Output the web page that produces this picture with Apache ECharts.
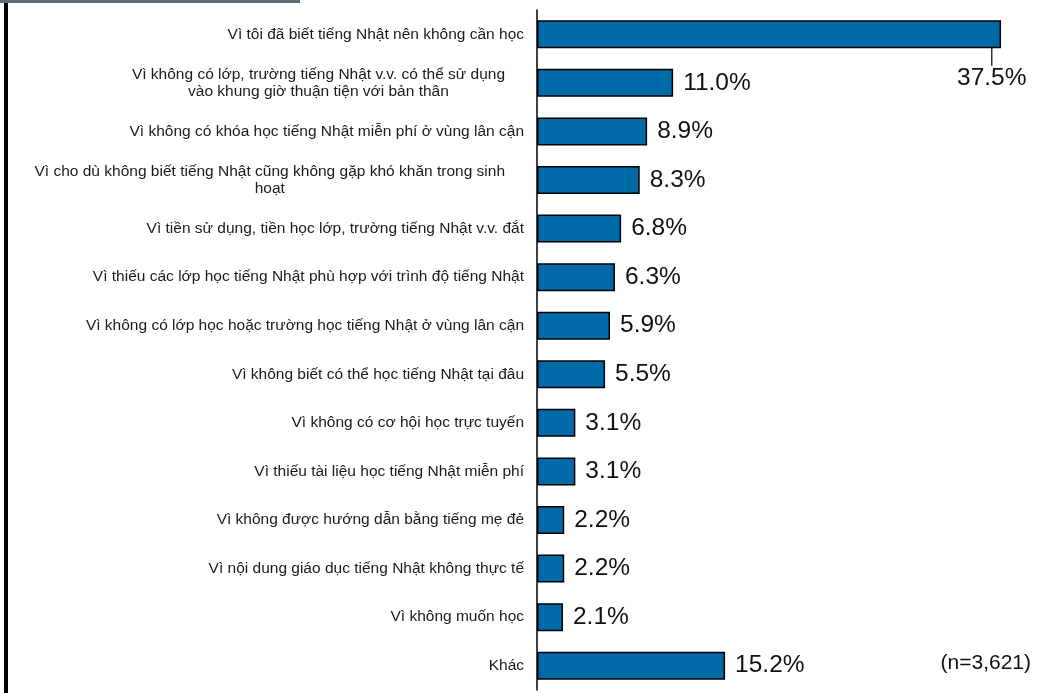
<!DOCTYPE html>
<html>
<head>
<meta charset="utf-8">
<script src="https://cdn.jsdelivr.net/npm/echarts@6/dist/echarts.min.js"></script>
<style>
  html, body { margin: 0; padding: 0; background: #fff; }
  #chart { width: 1049px; height: 693px; }
</style>
</head>
<body>
<div id="chart"></div>
<script>
// reasons (top to bottom) and share in %
const reasons = [
  "Vì tôi đã biết tiếng Nhật nên không cần học",
  "Vì không có lớp, trường tiếng Nhật v.v. có thể sử dụng\nvào khung giờ thuận tiện với bản thân",
  "Vì không có khóa học tiếng Nhật miễn phí ở vùng lân cận",
  "Vì cho dù không biết tiếng Nhật cũng không gặp khó khăn trong sinh\nhoạt",
  "Vì tiền sử dụng, tiền học lớp, trường tiếng Nhật v.v. đắt",
  "Vì thiếu các lớp học tiếng Nhật phù hợp với trình độ tiếng Nhật",
  "Vì không có lớp học hoặc trường học tiếng Nhật ở vùng lân cận",
  "Vì không biết có thể học tiếng Nhật tại đâu",
  "Vì không có cơ hội học trực tuyến",
  "Vì thiếu tài liệu học tiếng Nhật miễn phí",
  "Vì không được hướng dẫn bằng tiếng mẹ đẻ",
  "Vì nội dung giáo dục tiếng Nhật không thực tế",
  "Vì không muốn học",
  "Khác"
];
const shares = [37.5, 11.0, 8.9, 8.3, 6.8, 6.3, 5.9, 5.5, 3.1, 3.1, 2.2, 2.2, 2.1, 15.2];
const sampleNote = "(n=3,621)";

const font = "'Liberation Sans', Arial, sans-serif";

const chart = echarts.init(document.getElementById("chart"));

const catData = reasons.map((r) => {
  // multi-line labels sit in a narrower wrap box, like the original
  if (r.indexOf("\n") >= 0) {
    return { value: r, textStyle: { padding: [0, 19, 0, 0] } };
  }
  return r;
});

// only the longest bar has its label pulled below with a leader line
const barData = shares.map((v, i) =>
  i === 0 ? { value: v, labelLine: { show: true } } : v
);

chart.setOption({
  animation: false,
  grid: { left: 537, right: 17, top: 10, bottom: 3 },
  xAxis: {
    type: "value",
    min: 0,
    max: 40,
    show: false
  },
  yAxis: {
    type: "category",
    inverse: true,
    data: catData,
    axisLine: { show: true, lineStyle: { color: "#000", width: 1.5 } },
    axisTick: { show: false },
    axisLabel: {
      margin: 13,
      color: "#1a1a1a",
      fontFamily: font,
      fontSize: 15.5,
      lineHeight: 17,
      formatter: (v) => v.split("\n").map((l) => "{c|" + l + "}").join("\n"),
      rich: {
        c: { align: "center", fontFamily: font, fontSize: 15.5, lineHeight: 17, color: "#1a1a1a" }
      }
    }
  },
  series: [
    {
      type: "bar",
      data: barData,
      barWidth: 28,
      itemStyle: { color: "#0069a8", borderColor: "#000", borderWidth: 1.5 },
      label: {
        show: true,
        position: "right",
        distance: 10,
        formatter: (p) => p.value.toFixed(1) + "%",
        fontFamily: font,
        fontSize: 24.5,
        color: "#111"
      },
      labelLine: { show: false, lineStyle: { color: "#000", width: 1.2 } },
      labelLayout: (p) => {
        if (p.dataIndex === 0) {
          return { dx: -54, dy: 44 };
        }
        return {};
      }
    }
  ],
  graphic: [
    { type: "rect", shape: { x: 0, y: 0, width: 300, height: 3 }, style: { fill: "#5f6b78" } },
    { type: "rect", shape: { x: 4, y: 3, width: 4, height: 690 }, style: { fill: "#000" } },
    {
      type: "text",
      right: 18,
      top: 653,
      style: { text: sampleNote, fontFamily: font, fontSize: 21, fill: "#111" }
    }
  ]
});
</script>
</body>
</html>
